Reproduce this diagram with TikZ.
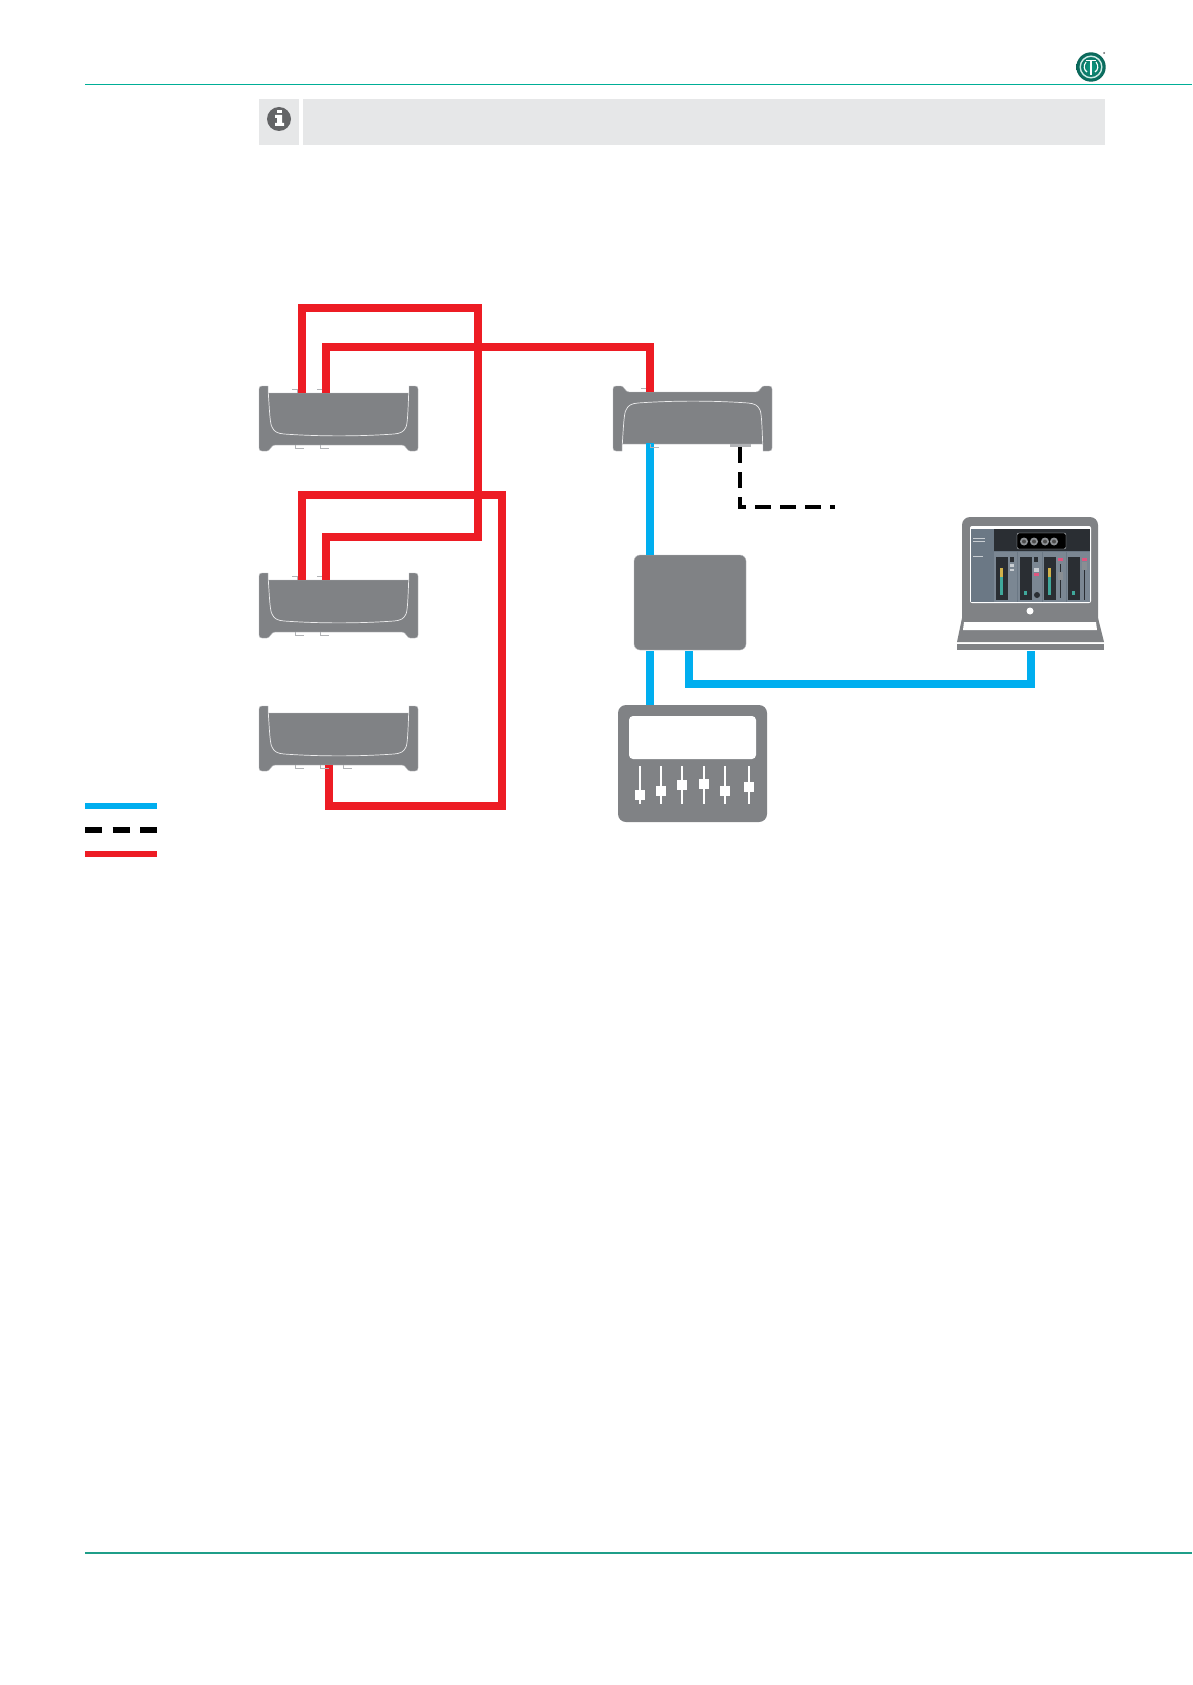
\documentclass[tikz,border=0pt]{standalone}
\definecolor{devgrey}{HTML}{808285}
\definecolor{edgegrey}{HTML}{BCBDC0}
\definecolor{tabgrey}{HTML}{B1B3B6}
\definecolor{barbg}{HTML}{E6E7E8}
\definecolor{icongrey}{HTML}{636466}
\definecolor{rulegreen}{HTML}{00AE97}
\definecolor{footgreen}{HTML}{1F9E89}
\definecolor{netblue}{HTML}{00AEEF}
\definecolor{netred}{HTML}{ED1C24}
\definecolor{uibg}{HTML}{6B7885}
\definecolor{uipanel}{HTML}{7B8793}
\definecolor{uidark}{HTML}{2A2E33}
\definecolor{uipink}{HTML}{E0557F}
\definecolor{uiteal}{HTML}{3FA89B}
\definecolor{uiyellow}{HTML}{D2B24A}
\definecolor{uilight}{HTML}{C9CED3}
\definecolor{logodark}{HTML}{0B6659}
\definecolor{logomid}{HTML}{0E9A83}
\tikzset{
  redlink/.style={draw=netred,line width=8pt,line join=miter,line cap=butt},
  bluelink/.style={draw=netblue,line width=8pt,line join=miter,line cap=butt},
  dashlink/.style={draw=black,line width=4pt,line join=miter,dash pattern=on 16pt off 9pt},
  tabline/.style={draw=tabgrey,line width=1pt},
  hwbox/.style={fill=devgrey,draw=edgegrey,line width=0.4pt,rounded corners=6pt,inner sep=0pt,minimum width=112pt,minimum height=95pt},
  knobrect/.style={fill=white}
}
\newcommand{\devshape}[2]{%
  \begin{scope}[shift={(#1)},yscale=#2]
    \fill[devgrey,draw=edgegrey,line width=0.4pt] (3,0) -- (9,0) -- (9,7) -- (150,7) -- (150,0) -- (156,0)
      .. controls (158,0) and (159,1) .. (159,3) -- (159,62)
      .. controls (159,64) and (158,65) .. (156,65) -- (151,65)
      .. controls (148,65) and (147,59) .. (143,59) -- (16,59)
      .. controls (12,59) and (11,65) .. (8,65) -- (3,65)
      .. controls (1,65) and (0,64) .. (0,62) -- (0,3)
      .. controls (0,1) and (1,0) .. (3,0) -- cycle;
    \draw[white!85!devgrey,line width=0.7pt] (9.3,7) .. controls (10.5,25) and (11,38) .. (13,41)
      .. controls (15,46) and (19,47.5) .. (25,48) .. controls (60,50.5) and (100,50.5) .. (135,48)
      .. controls (141,47.5) and (145,46) .. (147,41) .. controls (148.5,38) and (149,25) .. (149.7,7);
  \end{scope}}
\newcommand{\toptab}[2]{\fill[tabgrey] (#1+5,#2) rectangle (#1+9,#2+3.5);\draw[tabline] (#1,#2) -- (#1+8,#2);}
\newcommand{\bottab}[2]{\draw[tabline] (#1,#2) -- (#1,#2+3) -- (#1+9,#2+3);}
\begin{document}
\begin{tikzpicture}[x=1pt,y=-1pt]
\path[use as bounding box,fill=white] (0,0) rectangle (1192,1685);

% page furniture
\draw[rulegreen,line width=1.2pt] (85,84.5) -- (1192,84.5);
\draw[footgreen,line width=1.2pt] (85,1553) -- (1192,1553);
\fill[barbg] (259,99) rectangle (299,145);
\fill[barbg] (303,99) rectangle (1105,145);
\fill[icongrey] (279,119) circle (12);
\fill[white] (277,110) rectangle (282,113.5);
\fill[white] (275,115) -- (282,115) -- (282,123) -- (284,123) -- (284,126) -- (275,126) -- (275,123) -- (277,123) -- (277,118) -- (275,118) -- cycle;

% logo
\shade[inner color=logomid,outer color=logodark] (1091,67) circle (14.7);
\draw[white!80!logomid,line width=1.4pt] (1091,67) circle (10.8);
\draw[white,line width=1.1pt] (1091,60) -- (1091,75);
\draw[white,line width=1.1pt] (1086,60.5) -- (1096,60.5);
\draw[white,line width=1.1pt] (1086,62) .. controls (1083,66) and (1084,70) .. (1087,72);
\draw[white,line width=1.1pt] (1096,62) .. controls (1099,66) and (1098,70) .. (1095,72);
\fill[icongrey] (1104,53) circle (1);

% port coordinates
\coordinate (d1a) at (302,393);
\coordinate (d1b) at (326,393);
\coordinate (d2a) at (302,580);
\coordinate (d2b) at (326,580);
\coordinate (d3a) at (329,765);
\coordinate (d4a) at (650,392);
\coordinate (d4b) at (650,443);
\coordinate (d4c) at (740,447);
\coordinate (mixa) at (650,705);
\coordinate (lapa) at (1031,651);
\coordinate (dashend) at (835,507);
\coordinate (b1) at (302,308);
\coordinate (b2) at (478,308);
\coordinate (b3) at (478,537);
\coordinate (b4) at (326,537);
\coordinate (c1) at (326,347);
\coordinate (c2) at (650,347);
\coordinate (e1) at (302,495);
\coordinate (e2) at (502,495);
\coordinate (e3) at (502,806);
\coordinate (e4) at (329,806);
\coordinate (f1) at (689,684);
\coordinate (f2) at (1031,684);
\coordinate (g1) at (740,507);

% devices
\devshape{259,386}{1}
\devshape{259,573}{1}
\devshape{259,706}{1}
\devshape{613,451}{-1}

% port tabs
\toptab{292}{389.5}\toptab{317}{389.5}
\bottab{295}{445}\bottab{320}{445}
\toptab{292}{576.5}\toptab{317}{576.5}
\bottab{295}{632}\bottab{320}{632}
\toptab{641}{388}
\fill[tabgrey] (730,443.5) rectangle (751,447);

% connectors
\draw[redlink] (d1a) -- (b1) -- (b2) -- (b3) -- (b4) -- (d2b);
\draw[redlink] (d1b) -- (c1) -- (c2) -- (d4a);
\draw[redlink] (d2a) -- (e1) -- (e2) -- (e3) -- (e4) -- (d3a);
\bottab{295}{765}\bottab{320}{765}\bottab{343}{765}
\draw[dashlink] (d4c) -- (g1) -- (dashend);

% interface box
\node[hwbox] (box) at (690,602.5) {};
\coordinate (boxt) at (650,555);
\coordinate (boxb) at (650,651);
\coordinate (boxc) at (689,651);
\draw[bluelink] (d4b) -- (boxt);
\bottab{650}{444}
\draw[bluelink] (boxb) -- (mixa);
\draw[bluelink] (boxc) -- (f1) -- (f2) -- (lapa);

% mixer
\fill[devgrey,rounded corners=8pt] (618,705) rectangle (767,822);
\fill[white,rounded corners=4pt] (629,716) rectangle (756,759);
\foreach \x/\y in {640/795,661/791,682/785,704/784,725/791,749/787}{
  \fill[white] (\x-1,766) rectangle (\x+1,804);
  \fill[knobrect] (\x-5,\y-5) rectangle (\x+5,\y+5);
}

% laptop
\fill[devgrey] (962,618) -- (957,642) -- (1104,642) -- (1098,618) -- cycle;
\fill[devgrey,rounded corners=8pt] (962,630) -- (962,517) -- (1098,517) -- (1098,630) -- cycle;
\fill[devgrey] (957,644) rectangle (1104,650);
\fill[white] (964,622) -- (1096,622) -- (1097,630) -- (963,630) -- cycle;
\fill[devgrey] (962,618) rectangle (1098,622);
\fill[white] (1030,611) circle (3.5);
\fill[white,rounded corners=2pt] (970,526) rectangle (1091,603);
\fill[uibg] (971,529) rectangle (1090,602);
\fill[uidark] (994,529) rectangle (1090,551);
\fill[black,draw=uilight,line width=0.4pt,rounded corners=2pt] (1017,533) rectangle (1066,549);
\foreach \x in {1024,1034,1045,1054}{\fill[uilight!70!black] (\x,541.5) circle (4);\fill[black!70] (\x,541.5) circle (2);}
\foreach \a/\b in {994/1017,1018/1042,1043/1066,1067/1090}{\fill[uipanel] (\a,552) rectangle (\b,602);}
\foreach \a in {996,1020,1044,1068}{\fill[uidark] (\a,557) rectangle (\a+12,600);}
\foreach \a in {1000,1048}{\fill[uiyellow] (\a,568) rectangle (\a+2.5,577);\fill[uiteal] (\a,577) rectangle (\a+2.5,595);}
\foreach \a in {1024,1072}{\fill[uiteal] (\a,591) rectangle (\a+2.5,595);}
\fill[uipink] (1034,573) rectangle (1039,576);
\fill[uipink] (1058,558) rectangle (1063,560.5);
\fill[uipink] (1082,558) rectangle (1087,560.5);
\fill[uidark] (1010,557) rectangle (1014,562);
\fill[uilight] (1010,564) rectangle (1014,566.5);
\fill[uilight] (1010,569) rectangle (1014,571);
\fill[uidark] (1034,557) rectangle (1038,562);
\fill[uilight] (1034,568) rectangle (1039,571.5);
\fill[uidark] (1037,595) circle (3);
\fill[uidark] (1059.5,564) rectangle (1061,598);
\fill[uilight!60!uidark] (1058,572) rectangle (1063,580);
\fill[uidark] (1083.5,562) rectangle (1085,600);
\fill[uilight!60!uidark] (1082,562) rectangle (1087,570);
\foreach \y/\w in {538/12,541/12,556/10}{\draw[uilight,line width=0.4pt] (973,\y) -- (973+\w,\y);}

% legend
\coordinate (l1a) at (85,806);\coordinate (l1b) at (157,806);
\coordinate (l2a) at (85,830);\coordinate (l2b) at (157,830);
\coordinate (l3a) at (85,854);\coordinate (l3b) at (157,854);
\draw[netblue,line width=6pt] (l1a) -- (l1b);
\draw[black,line width=6pt,dash pattern=on 17pt off 10.5pt] (l2a) -- (l2b);
\draw[netred,line width=6pt] (l3a) -- (l3b);
\end{tikzpicture}
\end{document}
